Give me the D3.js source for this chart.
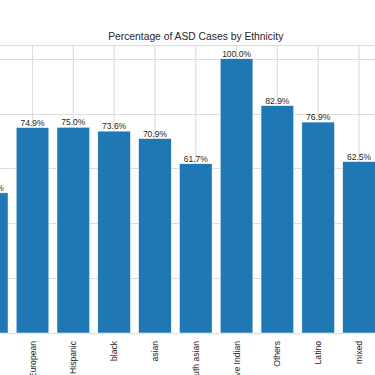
<!DOCTYPE html>
<html>
<head>
<meta charset="utf-8">
<script src="https://cdn.jsdelivr.net/npm/d3@7"></script>
<style>
  html, body { margin: 0; padding: 0; background: #fff; overflow: hidden; }
  svg { display: block; font-family: "Liberation Sans", Arial, sans-serif; }
</style>
</head>
<body>
<script>
    const width = 375;
    const height = 375;

    // ethnicity categories (the chart is cropped, the outer ones fall off the edges)
    const categories = ['middle eastern', 'White European', 'Hispanic', 'black', 'asian',
        'south asian', 'Native Indian', 'Others', 'Latino', 'mixed', 'Pacifica'];
    // percentage of ASD cases, null where the bar is outside the picture
    const percentages = [51.1, 74.9, 75.0, 73.6, 70.9, 61.7, 100.0, 82.9, 76.9, 62.5, null];
    const yTicks = [0, 20, 40, 60, 80, 100];

    const svg = d3.select('body').append('svg')
        .attr('width', width)
        .attr('height', height);

    // axes box runs past both sides of the window
    const axLeft = -28.7, axRight = 420.2, axTop = 45, axBottom = 333;

    const x = d3.scaleBand()
        .domain(categories)
        .range([axLeft, axRight])
        .paddingInner(0.2)
        .paddingOuter(0.1);

    const y = d3.scaleLinear()
        .domain([0, 105])
        .range([axBottom, axTop]);

    const gridColor = '#dedede';
    const textColor = '#262626';

    const grid = svg.append('g');

    // horizontal grid
    grid.selectAll('line.h')
        .data(yTicks)
        .enter().append('line')
        .attr('class', 'h')
        .attr('x1', axLeft).attr('x2', axRight)
        .attr('y1', d => Math.round(y(d)) + 0.5)
        .attr('y2', d => Math.round(y(d)) + 0.5)
        .attr('stroke', gridColor)
        .attr('stroke-width', 1.2);

    // vertical grid at each category
    grid.selectAll('line.v')
        .data(categories)
        .enter().append('line')
        .attr('class', 'v')
        .attr('x1', d => x(d) + x.bandwidth() / 2)
        .attr('x2', d => x(d) + x.bandwidth() / 2)
        .attr('y1', axTop).attr('y2', axBottom)
        .attr('stroke', gridColor)
        .attr('stroke-width', 1.2);

    // spines
    svg.append('rect')
        .attr('x', axLeft).attr('y', axTop + 0.5)
        .attr('width', axRight - axLeft).attr('height', axBottom - axTop)
        .attr('fill', 'none')
        .attr('stroke', gridColor)
        .attr('stroke-width', 1.2);

    const rows = categories.map((c, i) => ({ name: c, value: percentages[i] }))
        .filter(d => d.value !== null);

    svg.append('g').selectAll('rect')
        .data(rows)
        .enter().append('rect')
        .attr('x', d => x(d.name))
        .attr('y', d => y(d.value))
        .attr('width', x.bandwidth())
        .attr('height', d => y(0) - y(d.value))
        .attr('fill', '#1f77b4')
        .attr('stroke', '#ffffff')
        .attr('stroke-width', 0.5);

    // value labels
    svg.append('g').selectAll('text')
        .data(rows)
        .enter().append('text')
        .attr('x', d => x(d.name) + x.bandwidth() / 2)
        .attr('y', d => y(d.value) - 2)
        .attr('text-anchor', 'middle')
        .attr('font-size', '8.5px')
        .attr('fill', textColor)
        .text(d => d.value.toFixed(1) + '%');

    // rotated tick labels
    svg.append('g').selectAll('text')
        .data(categories)
        .enter().append('text')
        .attr('transform', d => `translate(${x(d) + x.bandwidth() / 2},${axBottom + 8}) rotate(-90)`)
        .attr('text-anchor', 'end')
        .attr('dy', '0.35em')
        .attr('font-size', '8.6px')
        .attr('fill', textColor)
        .text(d => d);

    svg.append('text')
        .attr('x', (axLeft + axRight) / 2)
        .attr('y', 40)
        .attr('text-anchor', 'middle')
        .attr('font-size', '10.3px')
        .attr('fill', textColor)
        .text('Percentage of ASD Cases by Ethnicity');
</script>
</body>
</html>
